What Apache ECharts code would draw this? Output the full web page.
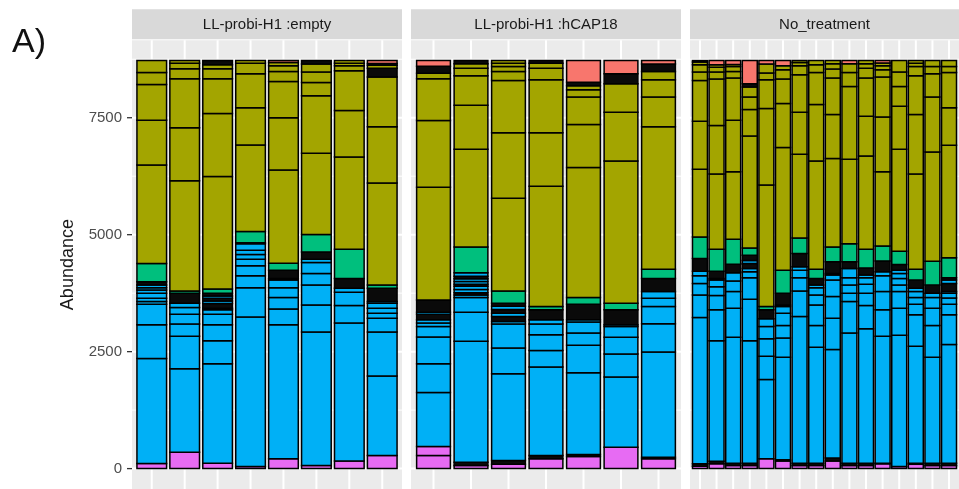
<!DOCTYPE html>
<html><head><meta charset="utf-8">
<script src="https://cdn.jsdelivr.net/npm/echarts@6/dist/echarts.min.js"></script>
<style>html,body{margin:0;padding:0;background:#fff}#c{width:959px;height:489px}</style>
</head><body><div id="c"></div>
<script>
const facetNames = ['LL-probi-H1 :empty', 'LL-probi-H1 :hCAP18', 'No_treatment'];
const yTicks = [0, 2500, 5000, 7500];
const yMinorTicks = [1250, 3750, 6250, 8750];
const phylumColors = {S:'#F8766D', O:'#A3A500', G:'#00BF7D', B:'#00B0F6', P:'#E76BF3', K:'#0a0a0a'};
// each sample: OTU segments bottom->top as [phylum, cumulative abundance at segment top]
// K = run of many tiny OTUs whose outlines merge into black
const emptySamples = [
 [['P',110],['B',2352],['B',3075],['B',3514],['B',3571],['B',3641],['B',3747],['B',3818],['B',3868],['B',3923],['K',3995],['G',4384],['O',6492],['O',7448],['O',8212],['O',8467],['O',8721]],
 [['P',350],['B',2134],['B',2828],['B',3089],['B',3301],['B',3443],['B',3535],['K',3747],['G',3796],['O',6153],['O',7286],['O',8333],['O',8545],['O',8666],['O',8721]],
 [['P',117],['B',2240],['B',2735],['B',3075],['B',3301],['B',3393],['B',3428],['K',3530],['B',3580],['K',3640],['B',3690],['K',3747],['G',3838],['O',6245],['O',7590],['O',8333],['O',8545],['O',8630],['K',8721]],
 [['P',47],['B',3238],['B',3868],['B',4123],['B',4335],['B',4475],['B',4575],['B',4666],['B',4808],['K',4830],['G',5070],['O',6917],['O',7711],['O',8439],['O',8666],['O',8721]],
 [['P',208],['B',3075],['B',3414],['B',3656],['B',3868],['B',4030],['B',4066],['K',4242],['G',4390],['O',6380],['O',7498],['O',8276],['O',8488],['O',8609],['O',8680],['S',8721]],
 [['P',68],['B',2919],['B',3499],['B',3923],['B',4172],['B',4405],['B',4476],['K',4632],['G',5006],['O',6741],['O',7972],['O',8254],['O',8475],['O',8650],['K',8721]],
 [['P',163],['B',3110],['B',3486],['B',3768],['B',3853],['K',4066],['G',4688],['O',6662],['O',7653],['O',8502],['O',8609],['O',8666],['O',8721]],
 [['P',280],['B',1979],['B',2919],['B',3216],['B',3322],['B',3429],['B',3535],['B',3571],['K',3853],['G',3923],['O',6104],['O',7307],['O',8369],['K',8560],['O',8620],['K',8660],['S',8721]]
];
const hcapSamples = [
 [['P',280],['P',471],['B',1624],['B',2240],['B',2813],['B',3040],['B',3110],['B',3180],['K',3300],['B',3340],['K',3605],['O',6012],['O',7441],['O',8333],['O',8450],['K',8600],['S',8721]],
 [['P',68],['K',138],['B',2721],['B',3344],['B',3656],['B',3711],['K',3760],['B',3830],['B',3900],['K',3940],['B',4000],['B',4060],['K',4110],['B',4186],['G',4738],['O',6825],['O',7766],['O',8397],['O',8560],['O',8651],['K',8721]],
 [['P',92],['K',174],['B',2027],['B',2579],['B',3089],['B',3146],['K',3250],['B',3320],['K',3400],['B',3470],['K',3535],['G',3796],['O',5779],['O',7180],['O',8297],['O',8488],['O',8594],['O',8666],['O',8721]],
 [['P',208],['K',280],['B',2170],['B',2522],['B',2862],['B',3089],['B',3180],['K',3393],['G',3465],['O',6034],['O',7180],['O',8312],['O',8560],['O',8666],['K',8721]],
 [['P',259],['K',301],['B',2049],['B',2637],['B',2898],['B',3131],['B',3180],['K',3514],['G',3656],['O',6437],['O',7356],['O',7944],['O',8099],['O',8184],['K',8260],['S',8721]],
 [['P',456],['B',1957],['B',2452],['B',2806],['B',3040],['B',3075],['K',3393],['G',3535],['O',6577],['O',7617],['O',8227],['K',8439],['S',8721]],
 [['P',208],['K',244],['B',2494],['B',3096],['B',3465],['B',3641],['B',3783],['K',4066],['G',4263],['O',7307],['O',7944],['O',8312],['O',8488],['K',8650],['S',8721]]
];
const noTreatSamples = [
 [['P',50],['K',102],['B',3231],['B',3711],['B',3959],['B',4123],['B',4221],['K',4490],['G',4951],['O',6401],['O',7426],['O',8297],['O',8475],['O',8630],['O',8690],['S',8721]],
 [['P',102],['K',159],['B',2735],['B',3393],['B',3698],['B',3889],['B',4030],['B',4066],['K',4221],['G',4688],['O',6295],['O',7335],['O',8326],['O',8475],['O',8581],['O',8630],['S',8721]],
 [['P',68],['K',117],['B',2806],['B',3429],['B',3783],['B',4008],['B',4186],['K',4370],['G',4900],['O',6344],['O',7448],['O',8347],['O',8488],['O',8594],['O',8640],['S',8721]],
 [['P',68],['K',117],['B',2735],['B',3620],['B',4080],['B',4208],['B',4278],['K',4384],['B',4450],['K',4560],['G',4717],['O',7108],['O',7674],['O',7944],['O',8156],['K',8226],['S',8721]],
 [['P',208],['B',1907],['B',2403],['B',2777],['B',3040],['B',3201],['K',3393],['G',3465],['O',6061],['O',7696],['O',8312],['O',8454],['O',8650],['S',8721]],
 [['P',163],['K',187],['B',2382],['B',2792],['B',3061],['B',3322],['B',3465],['B',3499],['K',3747],['G',4242],['O',6862],['O',7802],['O',8326],['O',8524],['O',8609],['S',8721]],
 [['P',68],['K',117],['B',3252],['B',3796],['B',4080],['B',4242],['B',4313],['K',4596],['G',4930],['O',6719],['O',7617],['O',8418],['O',8609],['O',8680],['O',8721]],
 [['P',68],['K',117],['B',2594],['B',3061],['B',3499],['B',3711],['B',3868],['B',3923],['K',4066],['G',4263],['O',6577],['O',7781],['O',8467],['O',8630],['O',8721]],
 [['P',163],['K',229],['B',2544],['B',3216],['B',3677],['B',4030],['B',4136],['B',4172],['K',4420],['G',4738],['O',6628],['O',7568],['O',8347],['O',8539],['O',8651],['O',8721]],
 [['P',68],['K',117],['B',2898],['B',3571],['B',3747],['B',3923],['B',4080],['B',4278],['K',4420],['G',4808],['O',6613],['O',8169],['O',8467],['O',8651],['S',8721]],
 [['P',68],['K',117],['B',2989],['B',3486],['B',3747],['B',3938],['B',4080],['B',4136],['K',4290],['G',4688],['O',6683],['O',7532],['O',8347],['O',8560],['O',8651],['O',8721]],
 [['P',102],['K',117],['B',2828],['B',3393],['B',3783],['B',4123],['B',4208],['K',4440],['G',4759],['O',6344],['O',7518],['O',8369],['O',8524],['O',8609],['O',8670],['S',8721]],
 [['P',47],['B',2849],['B',3429],['B',3783],['B',3923],['B',4066],['B',4172],['B',4242],['K',4363],['G',4645],['O',6825],['O',7744],['O',8169],['O',8475],['O',8721]],
 [['P',92],['K',117],['B',2615],['B',3286],['B',3514],['B',3656],['B',3783],['B',3853],['K',4030],['G',4263],['O',6295],['O',7568],['O',8397],['O',8594],['O',8666],['O',8721]],
 [['P',68],['K',117],['B',2382],['B',3061],['B',3429],['B',3656],['B',3747],['K',3923],['G',4433],['O',6768],['O',7944],['O',8439],['O',8594],['O',8721]],
 [['P',68],['K',117],['B',2650],['B',3286],['B',3514],['B',3647],['B',3747],['B',3783],['K',3959],['B',4030],['K',4080],['G',4505],['O',6911],['O',7711],['O',8467],['O',8594],['O',8721]]
];

const Y_MIN = -436, Y_MAX = 9157;
const facets = [
  {name: facetNames[0], samples: emptySamples, left: 132, width: 270},
  {name: facetNames[1], samples: hcapSamples, left: 411, width: 270},
  {name: facetNames[2], samples: noTreatSamples, left: 690, width: 269}
];
const FONT = '"Liberation Sans", Arial, sans-serif';
const grids = [], xAxes = [], yAxes = [], series = [], graphics = [];

facets.forEach((f, k) => {
  const n = f.samples.length;
  grids.push({left: f.left, width: f.width, top: 40.2, height: 452, show: true,
    backgroundColor: '#EBEBEB', borderWidth: 0});
  xAxes.push({gridIndex: k, type: 'value', min: -0.6, max: n - 0.4, show: false});
  yAxes.push({gridIndex: k, type: 'value', min: Y_MIN, max: Y_MAX, show: k === 0,
    splitLine: {show: false},
    axisLine: {show: false},
    axisTick: {show: false},
    axisLabel: {show: true, customValues: yTicks, margin: 10, color: '#4D4D4D', fontSize: 15, fontFamily: FONT,
      formatter: v => String(v)},
    name: k === 0 ? 'Abundance' : '', nameLocation: 'middle', nameGap: 55, nameRotate: 90,
    nameTextStyle: {color: '#1A1A1A', fontSize: 18, fontFamily: FONT}});

  // white panel grid lines (+ outside tick marks on the first facet)
  const hData = yTicks.map(v => [v, 2]).concat(yMinorTicks.map(v => [v, 1]));
  series.push({type: 'custom', xAxisIndex: k, yAxisIndex: k, z: 1, silent: true, clip: false, data: hData,
    encode: {y: 0},
    renderItem: (p, api) => {
      const v = api.value(0), w = api.value(1);
      const a = api.coord([-0.6, v]), b = api.coord([n - 0.4, v]);
      const children = [{type: 'line', shape: {x1: a[0], y1: a[1], x2: b[0], y2: b[1]}, style: {stroke: '#FFFFFF', lineWidth: w}}];
      if (k === 0 && w === 2) {
        children.push({type: 'line', shape: {x1: a[0] - 5, y1: a[1], x2: a[0], y2: a[1]}, style: {stroke: '#333333', lineWidth: 1.3}});
      }
      return {type: 'group', children: children};
    }});
  series.push({type: 'custom', xAxisIndex: k, yAxisIndex: k, z: 1, silent: true,
    data: f.samples.map((s, i) => [i]), encode: {x: 0},
    renderItem: (p, api) => {
      const i = api.value(0);
      const a = api.coord([i, Y_MAX]), b = api.coord([i, Y_MIN]);
      return {type: 'line', shape: {x1: a[0], y1: a[1], x2: b[0], y2: b[1]}, style: {stroke: '#FFFFFF', lineWidth: 2}};
    }});

  // stacked OTU segments
  const segData = [], segColors = [];
  f.samples.forEach((segs, i) => {
    let prev = 0;
    segs.forEach(([ph, top]) => { segData.push([i, prev, top]); segColors.push(phylumColors[ph]); prev = top; });
  });
  series.push({type: 'custom', xAxisIndex: k, yAxisIndex: k, z: 3, silent: true, data: segData,
    encode: {x: 0, y: [1, 2]},
    renderItem: (p, api) => {
      const x = api.value(0), s = api.value(1), e = api.value(2);
      const a = api.coord([x - 0.45, e]), b = api.coord([x + 0.45, s]);
      return {type: 'rect', shape: {x: a[0], y: a[1], width: b[0] - a[0], height: b[1] - a[1]},
        style: {fill: segColors[p.dataIndex], stroke: '#000', lineWidth: 1.5}};
    }});

  graphics.push({type: 'rect', silent: true, shape: {x: f.left, y: 9.3, width: f.width, height: 30}, style: {fill: '#D9D9D9'}});
  graphics.push({type: 'text', silent: true, x: f.left + f.width / 2, y: 24.8,
    style: {text: f.name, fill: '#1A1A1A', font: '15px ' + FONT, textAlign: 'center', textVerticalAlign: 'middle', align: 'center', verticalAlign: 'middle'}});
});
graphics.push({type: 'text', silent: true, x: 12, y: 42.5,
  style: {text: 'A)', fill: '#111', font: '34px ' + FONT, textAlign: 'left', textVerticalAlign: 'middle', align: 'left', verticalAlign: 'middle'}});

const chart = echarts.init(document.getElementById('c'), null, {renderer: 'canvas'});
chart.setOption({animation: false, backgroundColor: '#FFFFFF', grid: grids, xAxis: xAxes, yAxis: yAxes, series: series, graphic: graphics});
</script></body></html>
